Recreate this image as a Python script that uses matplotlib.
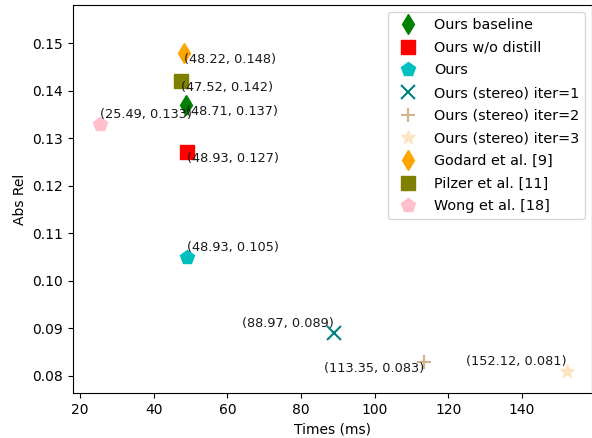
import matplotlib
matplotlib.use('Agg')
import matplotlib.pyplot as plt

# Methods and their (time, abs rel) values
labels = ['Ours baseline', 'Ours w/o distill', 'Ours',
          'Ours (stereo) iter=1', 'Ours (stereo) iter=2', 'Ours (stereo) iter=3',
          'Godard et al. [9]', 'Pilzer et al. [11]', 'Wong et al. [18]']
times = [48.71, 48.93, 48.93, 88.97, 113.35, 152.12, 48.22, 47.52, 25.49]
abs_rel = [0.137, 0.127, 0.105, 0.089, 0.083, 0.081, 0.148, 0.142, 0.133]

# Marker styles per method
markers = ['d', 's', 'p', 'x', '+', '*', 'd', 's', 'p']
colors = ['g', 'r', 'c', 'teal', 'tan', 'bisque', 'orange', 'olive', 'pink']

# How each value label sits relative to its point
text_align = [('left', 'top'), ('left', 'top'), ('left', 'bottom'),
              ('right', 'bottom'), ('right', 'top'), ('right', 'bottom'),
              ('left', 'top'), ('left', 'top'), ('left', 'bottom')]

fig = plt.figure(figsize=(5.92, 4.38), dpi=100)
ax = fig.add_axes([73 / 592, 45 / 438, 519 / 592, 388 / 438])

for lab, x, y, m, c in zip(labels, times, abs_rel, markers, colors):
    mew = 1.5 if m in ('x', '+') else 1
    ax.plot(x, y, linestyle='none', marker=m, color=c, markersize=10,
            markeredgewidth=mew, label=lab)

for x, y, (ha, va) in zip(times, abs_rel, text_align):
    dy = 2 if va == 'bottom' else 0
    ax.annotate(f'({x}, {y})', (x, y), xytext=(0, dy), textcoords='offset points',
                ha=ha, va=va, fontsize=9.3, color='#1a1a1a')

ax.set_xlim(18.1, 159.0)
ax.set_ylim(0.0764, 0.158)
ax.set_xlabel('Times (ms)')
ax.set_ylabel('Abs Rel')
ax.legend(loc='upper right', numpoints=1, fontsize=10.4, labelspacing=0.6)

fig.savefig('out.png', dpi=100)
